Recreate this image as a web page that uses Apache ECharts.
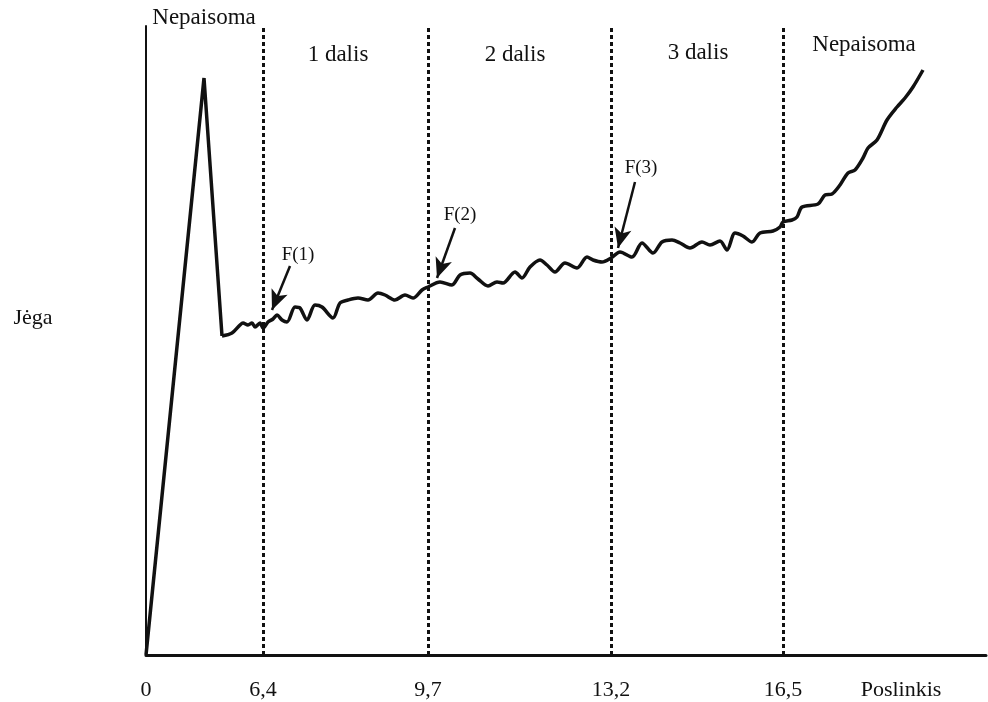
<!DOCTYPE html>
<html>
<head>
<meta charset="utf-8">
<script src="https://cdn.jsdelivr.net/npm/echarts@6/dist/echarts.min.js"></script>
<style>
  html, body { margin: 0; padding: 0; background: #fff; }
  #chart { width: 988px; height: 702px; }
</style>
</head>
<body>
<div id="chart"></div>
<script>
// schematic units (axis is not to scale in the source figure)
const curveX = [0, 58, 76, 86, 94, 97, 102, 106, 109, 114, 117, 122, 127, 131, 136, 141, 149, 154, 161, 169, 176, 187, 194, 202, 212, 222, 232, 239, 249, 259, 267, 276, 282,
  294, 306, 314, 324, 332, 342, 351, 357, 369, 376, 384, 394, 401, 409, 419, 431, 441, 447, 456, 465, 474, 486, 496, 507, 516, 526, 534, 544, 556, 564, 574, 581, 589, 597, 606, 614, 627, 634,
  637, 646, 651, 656, 672, 679, 686, 694, 702, 709, 717, 722, 731, 741, 751, 759, 767, 777];
const curveY = [0, 577, 319, 322, 330, 332, 330, 332, 328, 332, 327, 333, 336, 340, 335, 333, 348, 347, 335, 350, 348, 337, 352, 355, 357, 355, 362, 360, 355, 360, 357, 365, 368,
  373, 370, 380, 382, 376, 369, 373, 372, 383, 377, 388, 395, 390, 383, 392, 387, 398, 395, 393, 397, 403, 398, 412, 402, 413, 415, 412, 407, 413, 410, 414, 405, 422, 419, 413, 422, 424, 428,
  433, 435, 438, 448, 451, 460, 461, 470, 482, 485, 497, 507, 515, 535, 548, 557, 568, 585];

const tickPos = [0, 117, 282, 465, 637];
const tickLabels = ['0', '6,4', '9,7', '13,2', '16,5'];
const boundaries = [117, 282, 465, 637];

const sectionNames = ['Nepaisoma', '1 dalis', '2 dalis', '3 dalis', 'Nepaisoma'];
const forceNames = ['F(1)', 'F(2)', 'F(3)'];
const arrowFrom = [[144, 389], [309, 427], [489, 473]];
const arrowTo = [[126, 345], [291, 377], [472, 407]];

const FONT = '"Liberation Serif", "DejaVu Serif", serif';
const INK = '#111';

const chart = echarts.init(document.getElementById('chart'), null, { renderer: 'canvas' });

const sectionPos = [[204, 18], [338, 55], [515, 55], [698, 53], [864, 45]];
const forcePos = [[298, 255], [460, 215], [641, 168]];

const graphics = [];
sectionNames.forEach((t, i) => {
  graphics.push({
    type: 'text', x: sectionPos[i][0], y: sectionPos[i][1],
    style: { text: t, font: '23px ' + FONT, fill: INK, align: 'center', verticalAlign: 'middle' }
  });
});
forceNames.forEach((t, i) => {
  graphics.push({
    type: 'text', x: forcePos[i][0], y: forcePos[i][1],
    style: { text: t, font: '19px ' + FONT, fill: INK, align: 'center', verticalAlign: 'middle' }
  });
});
graphics.push({
  type: 'text', x: 33, y: 318,
  style: { text: 'Jėga', font: '22px ' + FONT, fill: INK, align: 'center', verticalAlign: 'middle' }
});
graphics.push({
  type: 'text', x: 901, y: 690,
  style: { text: 'Poslinkis', font: '22px ' + FONT, fill: INK, align: 'center', verticalAlign: 'middle' }
});

const points = curveX.map((x, i) => [x, curveY[i]]);

chart.setOption({
  animation: false,
  grid: { left: 146, right: 2, top: 26, bottom: 47 },
  xAxis: {
    type: 'value', min: 0, max: 840,
    splitLine: { show: false },
    axisTick: { show: false },
    axisLine: { lineStyle: { color: INK, width: 3 } },
    axisLabel: {
      customValues: tickPos,
      margin: 24,
      color: INK, fontFamily: FONT, fontSize: 22,
      formatter: (v) => tickLabels[tickPos.indexOf(v)] ?? ''
    }
  },
  yAxis: {
    type: 'value', min: 0, max: 629,
    splitLine: { show: false },
    axisTick: { show: false },
    axisLabel: { show: false },
    axisLine: { show: true, lineStyle: { color: INK, width: 2 } }
  },
  graphic: graphics,
  series: [
    {
      // sharp initial peak
      type: 'line',
      data: points.slice(0, 3),
      showSymbol: false,
      lineStyle: { color: INK, width: 3.5, join: 'miter' },
      z: 3
    },
    {
      // wavy plateau and final rise
      type: 'line',
      data: points.slice(2),
      showSymbol: false,
      smooth: 0.3,
      lineStyle: { color: INK, width: 3.5, join: 'round' },
      markLine: {
        silent: true,
        symbol: ['none', 'none'],
        label: { show: false },
        lineStyle: { color: INK, width: 3, type: [4, 3] },
        data: boundaries.map((b) => ({ xAxis: b }))
      },
      z: 3
    },
    {
      type: 'line',
      data: [],
      markLine: {
        silent: true,
        symbol: ['none', 'arrow'],
        symbolSize: [13, 20],
        label: { show: false },
        lineStyle: { color: INK, width: 2.5, type: 'solid' },
        data: arrowFrom.map((f, i) => [{ coord: f }, { coord: arrowTo[i] }])
      }
    }
  ]
});
</script>
</body>
</html>
